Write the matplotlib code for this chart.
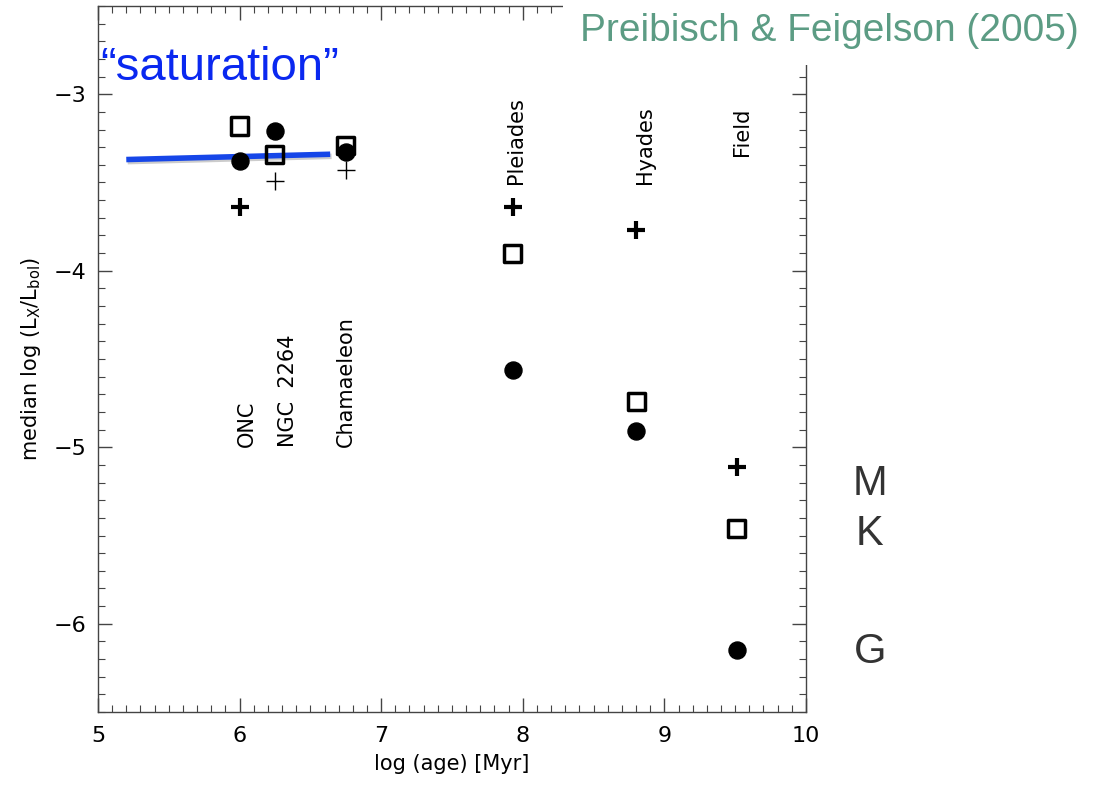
import matplotlib
matplotlib.use("Agg")
import numpy as np
from matplotlib import pyplot as plt
from matplotlib import patheffects as pe
from matplotlib.ticker import MultipleLocator

# median log(Lx/Lbol) per cluster
clusters = ["ONC", "NGC  2264", "Chamaeleon", "Pleiades", "Hyades", "Field"]
log_age = [6.0, 6.25, 6.75, 7.93, 8.80, 9.51]
lx_G = [-3.38, -3.21, -3.33, -4.56, -4.91, -6.15]   # filled circles
lx_K = [-3.18, -3.34, -3.29, -3.90, -4.74, -5.46]   # open squares
lx_M = [-3.64, -3.49, -3.43, -3.64, -3.77, -5.11]   # plus signs
bold_plus = [True, False, False, True, True, True]

# where the rotated cluster names sit (x, bottom y)
label_x = [6.05, 6.34, 6.75, 7.95, 8.86, 9.55]
label_y = [-5.0, -5.0, -5.0, -3.51, -3.51, -3.35]

# saturation line
sat_x = [5.2, 6.64]
sat_y = [-3.37, -3.34]

spectral = ["M", "K", "G"]
spectral_y = [-5.21, -5.49, -6.16]

plt.rcParams['font.family'] = ['DejaVu Sans']

fig = plt.figure(figsize=(10.97, 7.86), dpi=100)
ax = fig.add_axes([0.0893, 0.0941, 0.6454, 0.8983])
ax.set_xlim(5, 10)
ax.set_ylim(-6.5, -2.5)

ax.xaxis.set_major_locator(MultipleLocator(1))
ax.xaxis.set_minor_locator(MultipleLocator(0.1))
ax.yaxis.set_major_locator(MultipleLocator(1))
ax.yaxis.set_minor_locator(MultipleLocator(0.1))
ax.tick_params(which='both', direction='in', top=True, right=True,
               color='#444444', labelsize=16)
ax.tick_params(which='major', length=10, width=1)
ax.tick_params(which='minor', length=5, width=0.8)
ax.tick_params(axis='x', pad=10)
ax.tick_params(axis='y', pad=8)
for s in ax.spines.values():
    s.set_color('#444444')
    s.set_linewidth(1.0)

ax.set_xlabel("log (age) [Myr]", fontsize=15, labelpad=6)
ax.set_ylabel(r"median log (L$_\mathrm{X}$/L$_\mathrm{bol}$)", fontsize=15, labelpad=8)

ax.plot(sat_x, sat_y, color='#1646e8', lw=4, solid_capstyle='butt',
        path_effects=[pe.SimpleLineShadow(offset=(1, -1.5), alpha=0.2), pe.Normal()],
        zorder=2)

ax.scatter(log_age, lx_G, s=150, marker='o', color='black', zorder=3)
ax.scatter(log_age, lx_K, s=150, marker='s', facecolors='none',
           edgecolors='black', linewidths=2.5, zorder=3)
for xa, ym, b in zip(log_age, lx_M, bold_plus):
    ax.plot(xa, ym, marker='+', ms=13, mew=3.0 if b else 1.0,
            color='black', zorder=3)

for name, xl, yl in zip(clusters, label_x, label_y):
    ax.text(xl, yl, name, rotation=90, ha='center', va='bottom', fontsize=15)

for sp, yy in zip(spectral, spectral_y):
    ax.text(10.45, yy, sp, ha='center', va='center', fontsize=30,
            color='#333333', family='Liberation Sans', clip_on=False)

fig.text(0.2, 0.913, "\u201csaturation\u201d", color='#0a28f0', fontsize=34,
         family='Liberation Sans', ha='center', va='center')

fig.text(0.7557, 0.961, "Preibisch & Feigelson (2005)", color='#5c9c84',
         fontsize=28, family='Liberation Sans', ha='center', va='center',
         bbox=dict(boxstyle='square,pad=0.42', facecolor='white', edgecolor='none'))

fig.savefig("out.png", dpi=100)
